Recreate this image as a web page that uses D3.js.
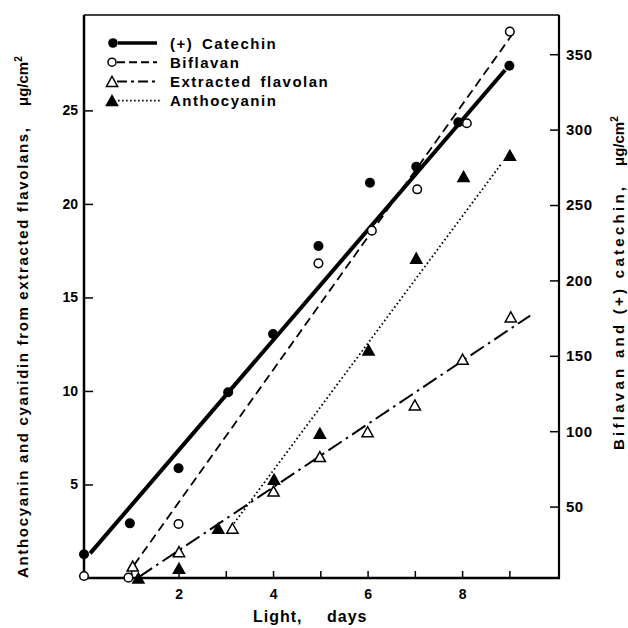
<!DOCTYPE html>
<html>
<head>
<meta charset="utf-8">
<script src="https://cdn.jsdelivr.net/npm/d3@7"></script>
<style>
  body { margin: 0; background: #fff; }
  text { font-family: "Liberation Sans", Arial, sans-serif; font-weight: bold; fill: #000; }
</style>
</head>
<body>
<script>
let width = 628
let height = 628

// (+) catechin, right axis
const catechinDays = [0, 0.97, 2, 3.05, 4, 4.96, 6.05, 7.03, 7.92, 9]
const catechinVals = [18.4, 38.9, 75.4, 125.8, 164.5, 222.8, 264.8, 275.4, 304.8, 342.4]
const catechinFit = [[0.13, 19], [8.91, 339.5]]

// biflavan, right axis
const biflavanDays = [0, 0.94, 2, 4.96, 6.09, 7.05, 8.1, 9.01]
const biflavanVals = [4, 2.9, 38.5, 211.3, 233, 260.4, 304.2, 365]
const biflavanFit = [[1.06, 11.3], [9.08, 363.9]]

// extracted flavolan, left axis
const flavolanDays = [1.03, 2.01, 3.14, 4.01, 4.99, 6.0, 7.0, 8.01, 9.03]
const flavolanVals = [0.64, 1.41, 2.66, 4.65, 6.49, 7.82, 9.25, 11.7, 13.96]
const flavolanFit = [[1.16, 0.05], [9.44, 14.03]]

// anthocyanin, left axis
const anthoDays = [1.15, 2.01, 2.84, 4.02, 4.99, 6.02, 7.03, 8.03, 9.01]
const anthoVals = [0, 0.52, 2.66, 5.28, 7.74, 12.19, 17.1, 21.47, 22.6]
const anthoFit = [[3.12, 2.74], [8.84, 22.18]]

const xTicks = [1, 2, 3, 4, 5, 6, 7, 8, 9]
const leftTicks = [5, 10, 15, 20, 25]
const rightTicks = [50, 100, 150, 200, 250, 300, 350]
const legendLabels = ['(+) Catechin', 'Biflavan', 'Extracted flavolan', 'Anthocyanin']

let svg = d3.select('body')
  .append('svg')
  .attr('width', width)
  .attr('height', height)

let x = d3.scaleLinear().domain([0, 10.05]).range([84, 559])
let yL = d3.scaleLinear().domain([0, 30.1]).range([578, 15])
let yR = d3.scaleLinear().domain([0, 376]).range([582, 15])

// axes, ticks pointing inward
let gx = svg.append('g')
  .attr('transform', 'translate(0,' + yL(0) + ')')
  .call(d3.axisBottom(x).tickValues(xTicks).tickSizeInner(-7).tickSizeOuter(0).tickPadding(11)
    .tickFormat(d => d % 2 === 0 ? d : ''))
let gl = svg.append('g')
  .attr('transform', 'translate(' + x(0) + ',0)')
  .call(d3.axisLeft(yL).tickValues(leftTicks).tickSizeInner(-9).tickSizeOuter(0).tickPadding(6))
let gr = svg.append('g')
  .attr('transform', 'translate(' + x(10.05) + ',0)')
  .call(d3.axisRight(yR).tickValues(rightTicks).tickSizeInner(-9).tickSizeOuter(0).tickPadding(7))

svg.selectAll('.domain').remove()
svg.selectAll('.tick line').attr('stroke', '#000').attr('stroke-width', 1.5)
gx.selectAll('text').attr('font-size', 14).attr('font-family', 'Liberation Sans').attr('font-weight', 'bold')
gl.selectAll('text').attr('font-size', 14).attr('font-family', 'Liberation Sans').attr('font-weight', 'bold')
gr.selectAll('text').attr('font-size', 15).attr('font-family', 'Liberation Sans').attr('font-weight', 'bold')
  .attr('letter-spacing', 0.5)

// frame
let frame = svg.append('g').attr('stroke', '#000').attr('fill', 'none')
frame.append('line').attr('x1', x(0)).attr('x2', x(0)).attr('y1', yL(30.1)).attr('y2', yL(0) + 1).attr('stroke-width', 2.5)
frame.append('line').attr('x1', x(0)).attr('x2', x(10.05) + 1).attr('y1', yL(0)).attr('y2', yL(0)).attr('stroke-width', 2.5)
frame.append('line').attr('x1', x(10.05)).attr('x2', x(10.05)).attr('y1', yL(30.1)).attr('y2', yL(0) + 1).attr('stroke-width', 2.2)
frame.append('line').attr('x1', x(0)).attr('x2', x(10.05)).attr('y1', yL(30.1)).attr('y2', yL(30.1)).attr('stroke-width', 1.5)

// fitted lines
let lineR = d3.line().x(d => x(d[0])).y(d => yR(d[1]))
let lineL = d3.line().x(d => x(d[0])).y(d => yL(d[1]))

svg.append('path').attr('d', lineR(catechinFit))
  .attr('stroke', '#000').attr('stroke-width', 4).attr('fill', 'none')
svg.append('path').attr('d', lineR(biflavanFit))
  .attr('stroke', '#000').attr('stroke-width', 1.8).attr('stroke-dasharray', '9,5').attr('fill', 'none')
svg.append('path').attr('d', lineL(flavolanFit))
  .attr('stroke', '#000').attr('stroke-width', 2).attr('stroke-dasharray', '16,5,2.5,5').attr('fill', 'none')
svg.append('path').attr('d', lineL(anthoFit))
  .attr('stroke', '#000').attr('stroke-width', 1.8).attr('stroke-dasharray', '1.6,2.6').attr('fill', 'none')

const tri = 'M0,-6L5.6,4L-5.6,4Z'

function drawCircles (days, vals, scale, filled) {
  svg.append('g').selectAll('circle')
    .data(days)
    .enter()
    .append('circle')
    .attr('cx', d => x(d))
    .attr('cy', (d, i) => scale(vals[i]))
    .attr('r', filled ? 5 : 4.3)
    .attr('fill', filled ? '#000' : '#fff')
    .attr('stroke', '#000')
    .attr('stroke-width', filled ? 0 : 1.5)
}

function drawTriangles (days, vals, scale, filled) {
  svg.append('g').selectAll('path')
    .data(days)
    .enter()
    .append('path')
    .attr('d', tri)
    .attr('transform', (d, i) => 'translate(' + x(d) + ',' + (scale(vals[i]) + 1) + ')')
    .attr('fill', filled ? '#000' : '#fff')
    .attr('stroke', '#000')
    .attr('stroke-width', 1.5)
}

drawCircles(biflavanDays, biflavanVals, yR, false)
drawCircles(catechinDays, catechinVals, yR, true)
drawTriangles(flavolanDays, flavolanVals, yL, false)
drawTriangles(anthoDays, anthoVals, yL, true)

// legend
let legend = svg.append('g')
legendLabels.forEach((label, i) => {
  let cy = 43 + i * 19.2
  let row = legend.append('g').attr('transform', 'translate(0,' + cy + ')')
  if (i === 0) {
    row.append('circle').attr('cx', 113).attr('cy', 0).attr('r', 4.8).attr('fill', '#000')
    row.append('line').attr('x1', 118).attr('x2', 157).attr('stroke', '#000').attr('stroke-width', 3.5)
  } else if (i === 1) {
    row.append('circle').attr('cx', 112).attr('cy', 0).attr('r', 4).attr('fill', '#fff').attr('stroke', '#000').attr('stroke-width', 1.5)
    row.append('line').attr('x1', 117).attr('x2', 157).attr('stroke', '#000').attr('stroke-width', 2)
      .attr('stroke-dasharray', '8,4')
  } else if (i === 2) {
    row.append('path').attr('d', tri).attr('transform', 'translate(112,1)').attr('fill', '#fff').attr('stroke', '#000').attr('stroke-width', 1.5)
    row.append('line').attr('x1', 117).attr('x2', 157).attr('stroke', '#000').attr('stroke-width', 2)
      .attr('stroke-dasharray', '10,4,3,4')
  } else {
    row.append('path').attr('d', tri).attr('transform', 'translate(112,1)').attr('fill', '#000').attr('stroke', '#000').attr('stroke-width', 1.5)
    row.append('line').attr('x1', 118).attr('x2', 162).attr('stroke', '#000').attr('stroke-width', 1.6)
      .attr('stroke-dasharray', '1.6,2.4')
  }
  row.append('text').attr('x', 170).attr('y', 5.5)
    .attr('font-size', 15).attr('letter-spacing', 1.5).attr('word-spacing', 3)
    .text(label)
})

// axis titles
svg.append('text').attr('x', 253).attr('y', 622).attr('font-size', 16).attr('letter-spacing', 1).text('Light,')
svg.append('text').attr('x', 327).attr('y', 622).attr('font-size', 16).attr('letter-spacing', 1).text('days')

svg.append('text')
  .attr('transform', 'translate(28,578) rotate(-90)')
  .attr('font-size', 15)
  .attr('textLength', 450).attr('lengthAdjust', 'spacing')
  .text('Anthocyanin and cyanidin from extracted flavolans,')
svg.append('text')
  .attr('transform', 'translate(28,106) rotate(-90)')
  .attr('font-size', 15)
  .html('μg/cm<tspan dy="-6" font-size="10">2</tspan>')

svg.append('text')
  .attr('transform', 'translate(624,450) rotate(-90)')
  .attr('font-size', 15)
  .attr('textLength', 263).attr('lengthAdjust', 'spacing')
  .text('Biflavan and (+) catechin,')
svg.append('text')
  .attr('transform', 'translate(624,166) rotate(-90)')
  .attr('font-size', 15)
  .html('μg/cm<tspan dy="-6" font-size="10">2</tspan>')
</script>
</body>
</html>
